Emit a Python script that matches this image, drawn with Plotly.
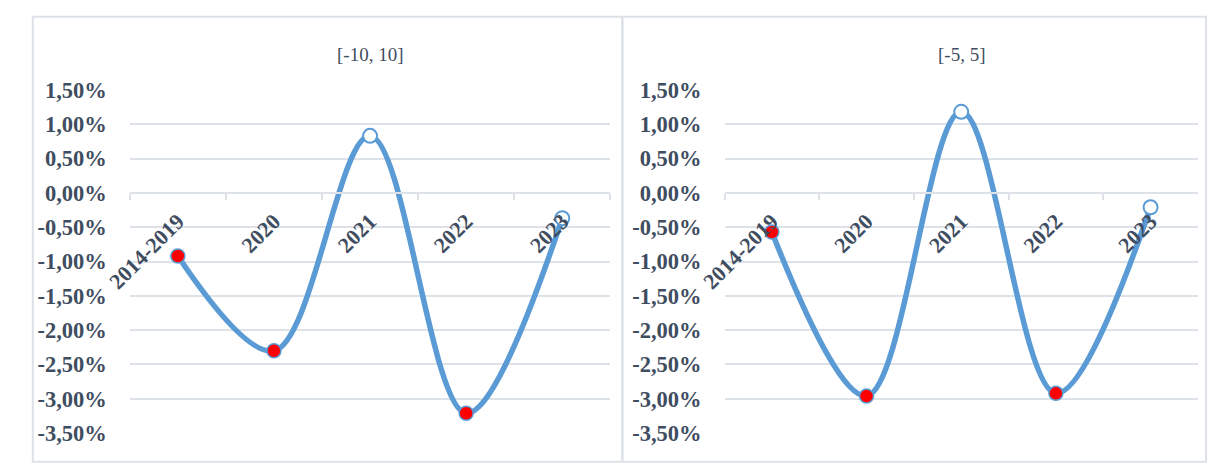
import plotly.graph_objects as go

# Period labels on the category axis
periods = ["2014-2019", "2020", "2021", "2022", "2023"]

# Deviation (%) for each band
band_titles = ["[-10, 10]", "[-5, 5]"]
dev_band_10 = [-0.92, -2.30, 0.83, -3.21, -0.37]
dev_band_5 = [-0.57, -2.96, 1.18, -2.92, -0.21]

# Periods drawn with an open marker
open_periods = ["2021", "2023"]

# Value-axis ticks
y_tick_vals = [1.5, 1.0, 0.5, 0.0, -0.5, -1.0, -1.5, -2.0, -2.5, -3.0, -3.5]
y_tick_text = ["1,50%", "1,00%", "0,50%", "0,00%", "-0,50%", "-1,00%",
               "-1,50%", "-2,00%", "-2,50%", "-3,00%", "-3,50%"]

W, H = 1208, 466
TEXT = "#3F4D61"
GRID = "#DDE1E8"
LINE = "#5B9BD5"
FONT = "Liberation Serif"

y_range = [-3.5, 1.5]
y_dom = [(H - 445) / H, (H - 82.3) / H]
x_doms = [[107 / W, 597.7 / W], [714.3 / W, 1197.7 / W]]
# paper position of the zero line, where the category axis sits
zero_pos = y_dom[0] + (0 - y_range[0]) / (y_range[1] - y_range[0]) * (y_dom[1] - y_dom[0])

fig = go.Figure()
series = [dev_band_10, dev_band_5]
for i, vals in enumerate(series):
    xa = "x" if i == 0 else "x2"
    ya = "y" if i == 0 else "y2"
    fills = ["#FFFFFF" if p in open_periods else "#FF0000" for p in periods]
    widths = [2 if p in open_periods else 1.5 for p in periods]
    fig.add_trace(go.Scatter(
        x=periods, y=vals, xaxis=xa, yaxis=ya,
        mode="lines+markers",
        line=dict(color=LINE, width=5.5, shape="spline", smoothing=1),
        marker=dict(size=14, color=fills, line=dict(color=LINE, width=widths)),
        showlegend=False, hoverinfo="x+y",
    ))

layout = dict(
    width=W, height=H,
    margin=dict(l=0, r=0, t=0, b=0),
    paper_bgcolor="white", plot_bgcolor="white",
    showlegend=False,
)
for i in range(2):
    sfx = "" if i == 0 else "2"
    layout["xaxis" + sfx] = dict(
        domain=x_doms[i], anchor="free", position=zero_pos,
        type="category", range=[-0.5, 4.5],
        showgrid=False, zeroline=False,
        showline=True, linecolor=GRID, linewidth=2,
        ticks="outside", tickson="boundaries", ticklen=6, tickwidth=2, tickcolor=GRID,
        tickangle=-45, ticklabelstandoff=6,
        tickfont=dict(family=FONT, size=22, color=TEXT, weight="bold"),
        fixedrange=True,
    )
    layout["yaxis" + sfx] = dict(
        domain=y_dom, anchor="x" + sfx, range=y_range,
        tickvals=y_tick_vals, ticktext=y_tick_text,
        showgrid=True, gridcolor=GRID, gridwidth=2,
        zeroline=False, showline=False, ticks="",
        ticklabelstandoff=22,
        tickfont=dict(family=FONT, size=22.5, color=TEXT, weight="bold"),
        fixedrange=True,
    )
fig.update_layout(**layout)

# Panel titles
for i, t in enumerate(band_titles):
    fig.add_annotation(
        text=t, xref="paper", yref="paper",
        x=(x_doms[i][0] + x_doms[i][1]) / 2, y=(H - 45) / H,
        xanchor="center", yanchor="middle", showarrow=False,
        font=dict(family=FONT, size=19, color=TEXT),
    )

# Chart frames
for x0, x1 in [(8, 610), (610, 1206)]:
    fig.add_shape(type="rect", xref="paper", yref="paper",
                  x0=x0 / W, x1=x1 / W, y0=-0.02, y1=(H - 5) / H,
                  line=dict(color=GRID, width=2), layer="below")

# Page without the default body margin so the figure fills the window
fig.write_html(
    "out.html",
    post_script="document.body.style.margin='0';document.body.style.overflow='hidden';",
)
